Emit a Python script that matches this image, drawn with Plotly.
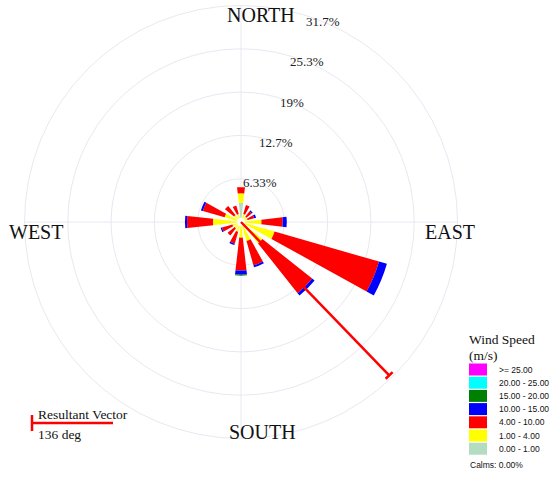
import math
import plotly.graph_objects as go

# ---------------- data ----------------
directions = [0, 22.5, 45, 67.5, 90, 112.5, 135, 157.5,
              180, 202.5, 225, 247.5, 270, 292.5, 315, 337.5]

speed_bins = ["0.00 - 1.00", "1.00 - 4.00", "4.00 - 10.00", "10.00 - 15.00",
              "15.00 - 20.00", "20.00 - 25.00", ">= 25.00"]
bin_colors = ["#b3dcc0", "#ffff00", "#ff0000", "#0000ff",
              "#008000", "#00ffff", "#ff00ff"]

# frequency (%) of each speed class per direction
freq_0_1   = [2.8, 0, 0, 0, 0, 0, 0, 0, 0, 0, 0, 0, 0, 0, 0, 0]
freq_1_4   = [1.4, 1.2, 1.0, 1.0, 3.0, 5.1, 4.0, 2.9, 2.3, 1.5, 1.2, 1.3, 4.1, 2.5, 1.3, 1.2]
freq_4_10  = [0.9, 1.4, 1.0, 1.0, 3.1, 15.9, 9.3, 3.7, 4.8, 1.8, 1.3, 1.6, 3.8, 3.3, 1.7, 1.3]
freq_10_15 = [0, 0, 0.2, 0.3, 0.6, 1.2, 0.45, 0.3, 0.6, 0.2, 0, 0.2, 0.3, 0.3, 0, 0]
freq_15_20 = [0, 0, 0, 0, 0, 0, 0, 0, 0.15, 0, 0, 0, 0, 0, 0, 0]
freq_20_25 = [0] * 16
freq_25_up = [0] * 16
freqs = [freq_0_1, freq_1_4, freq_4_10, freq_10_15, freq_15_20, freq_20_25, freq_25_up]

radial_ticks = [6.333, 12.667, 19.0, 25.333, 31.667]
radial_ticktext = ["6.33%", "12.7%", "19%", "25.3%", "31.7%"]
radial_max = 31.667

compass_labels = ["NORTH", "EAST", "SOUTH", "WEST"]

resultant_dir = 136
resultant_len = 31.2
calms_text = "Calms: 0.00%"

# ---------------- figure ----------------
W, H = 550, 487
cx, cy, R = 241, 222, 216.5
grid_col = "#e8e8f2"
serif = "Liberation Serif"
sans = "Liberation Sans"
label_angle = 68.5  # direction (deg, ccw from east) along which radial labels sit


def px(x):
    return x / W


def py(y):
    return 1 - y / H


fig = go.Figure()
for name, col, vals in zip(speed_bins, bin_colors, freqs):
    fig.add_trace(go.Barpolar(
        r=vals, theta=directions, width=[13] * len(directions),
        name=name, marker=dict(color=col, line=dict(width=0)),
        showlegend=False))

# small white calm circle at the centre
fig.add_trace(go.Scatterpolar(
    r=[0], theta=[0], mode="markers",
    marker=dict(color="white", size=8, line=dict(width=0)), showlegend=False))

# resultant vector
fig.add_trace(go.Scatterpolar(
    r=[0, resultant_len], theta=[resultant_dir, resultant_dir],
    mode="lines", line=dict(color="#ff0000", width=2.5), showlegend=False))
fig.add_trace(go.Scatterpolar(
    r=[resultant_len, resultant_len], theta=[resultant_dir - 1.3, resultant_dir + 1.3],
    mode="lines", line=dict(color="#ff0000", width=2.5), showlegend=False))

fig.update_layout(
    width=W, height=H, margin=dict(l=0, r=0, t=0, b=0),
    paper_bgcolor="white", plot_bgcolor="white",
    polar=dict(
        domain=dict(x=[(cx - R) / W, (cx + R) / W],
                    y=[(H - cy - R) / H, (H - cy + R) / H]),
        bgcolor="white", barmode="stack",
        radialaxis=dict(range=[0, radial_max], tickvals=radial_ticks,
                        showticklabels=False, showline=False, ticks="",
                        gridcolor=grid_col),
        angularaxis=dict(direction="clockwise", rotation=90,
                         tickvals=[0, 90, 180, 270], showticklabels=False,
                         ticks="", gridcolor=grid_col, linecolor=grid_col,
                         showline=True),
    ),
)

# radial tick labels, centred along the label direction
for v, txt in zip(radial_ticks, radial_ticktext):
    rp = v / radial_max * R
    lx = cx + rp * math.cos(math.radians(label_angle)) + 3
    ly = cy - rp * math.sin(math.radians(label_angle)) + 1
    fig.add_annotation(x=px(lx), y=py(ly), xref="paper", yref="paper",
                       text=txt, showarrow=False, xanchor="center", yanchor="middle",
                       font=dict(family=serif, size=13, color="#222"))

# compass labels
label_pos = [(261, 15), (450, 232), (262, 432), (36, 232)]
for txt, (x, y) in zip(compass_labels, label_pos):
    fig.add_annotation(x=px(x), y=py(y), xref="paper", yref="paper",
                       text=txt, showarrow=False, xanchor="center", yanchor="middle",
                       font=dict(family=serif, size=20, color="#111"))

# legend (manual)
for txt, y in [("Wind Speed", 339), ("(m/s)", 355)]:
    fig.add_annotation(x=px(467), y=py(y), xref="paper", yref="paper",
                       text=txt, showarrow=False, xanchor="left", yanchor="middle",
                       font=dict(family=serif, size=13.5, color="#111"))
leg_top = 369.5
leg_step = 13.2
for i, (name, col) in enumerate(zip(speed_bins[::-1], bin_colors[::-1])):
    yc = leg_top + i * leg_step
    fig.add_shape(type="rect", xref="paper", yref="paper",
                  x0=px(469), x1=px(487), y0=py(yc - 6), y1=py(yc + 6),
                  fillcolor=col, line=dict(width=0))
    fig.add_annotation(x=px(497), y=py(yc), xref="paper", yref="paper",
                       text=name, showarrow=False, xanchor="left", yanchor="middle",
                       font=dict(family=sans, size=8.5, color="#111"))
fig.add_annotation(x=px(468), y=py(465), xref="paper", yref="paper",
                   text=calms_text, showarrow=False, xanchor="left", yanchor="middle",
                   font=dict(family=sans, size=8.5, color="#111"))

# resultant vector key
fig.add_shape(type="line", xref="paper", yref="paper",
              x0=px(32), x1=px(113), y0=py(423), y1=py(423),
              line=dict(color="#ff0000", width=2.5))
fig.add_shape(type="line", xref="paper", yref="paper",
              x0=px(32), x1=px(32), y0=py(415), y1=py(431),
              line=dict(color="#ff0000", width=2.5))
fig.add_annotation(x=px(36), y=py(414), xref="paper", yref="paper",
                   text="Resultant Vector", showarrow=False, xanchor="left", yanchor="middle",
                   font=dict(family=serif, size=13.5, color="#111"))
fig.add_annotation(x=px(36), y=py(434), xref="paper", yref="paper",
                   text=f"{resultant_dir} deg", showarrow=False, xanchor="left", yanchor="middle",
                   font=dict(family=serif, size=13.5, color="#111"))

# remove the default 8px page margin so the 550x487 figure fills the window
fig.write_html("out.html", config={"displayModeBar": False},
               post_script="document.body.style.margin='0';")
